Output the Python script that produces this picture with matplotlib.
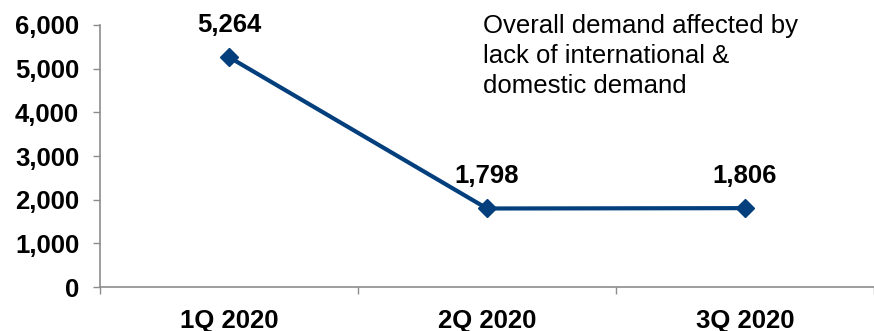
import matplotlib.pyplot as plt
import numpy as np

# Data
quarters = ["1Q 2020", "2Q 2020", "3Q 2020"]
demand = [5264, 1798, 1806]
y_ticks = [0, 1000, 2000, 3000, 4000, 5000, 6000]
note = "Overall demand affected by\nlack of international &\ndomestic demand"

line_color = "#023f7c"
axis_color = "#8c8c8c"

plt.rcParams["font.family"] = ["Liberation Sans", "DejaVu Sans"]

fig = plt.figure(figsize=(8.74, 3.31), dpi=100)
ax = fig.add_axes([0.1144, 0.1329, 0.8856, 0.7916])

x = np.arange(len(quarters))
ax.plot(x, demand, color=line_color, linewidth=3, marker="D", markersize=9,
        solid_joinstyle="miter", zorder=3)

# value labels above each point
for xi, v in zip(x, demand):
    ax.annotate(f"{v:,}", xy=(xi, v), xytext=(0, 18), textcoords="offset points",
                ha="center", va="baseline", fontsize=18.5, fontweight="bold")

ax.set_xlim(-0.5, len(quarters) - 0.5)
ax.set_ylim(0, 6000)
ax.set_yticks(y_ticks)
ax.set_yticklabels([f"{t:,}" for t in y_ticks], fontsize=18.5, fontweight="bold")
ax.set_xticks(x)
ax.set_xticklabels(quarters, fontsize=18.5, fontweight="bold")
ax.set_xticks(np.arange(len(quarters) + 1) - 0.5, minor=True)

ax.tick_params(axis="x", which="major", length=0, pad=15.5)
ax.tick_params(axis="x", which="minor", length=5, width=1, color=axis_color)
ax.tick_params(axis="y", length=5, width=1, color=axis_color, pad=10)

ax.spines[["top", "right"]].set_visible(False)
for s in ["left", "bottom"]:
    ax.spines[s].set_color(axis_color)
    ax.spines[s].set_linewidth(1.2)

fig.text(483 / 874, 1 - 14 / 331, note, ha="left", va="top", fontsize=18.5,
         linespacing=1.32)

plt.savefig("out.png", dpi=100)
plt.close()
